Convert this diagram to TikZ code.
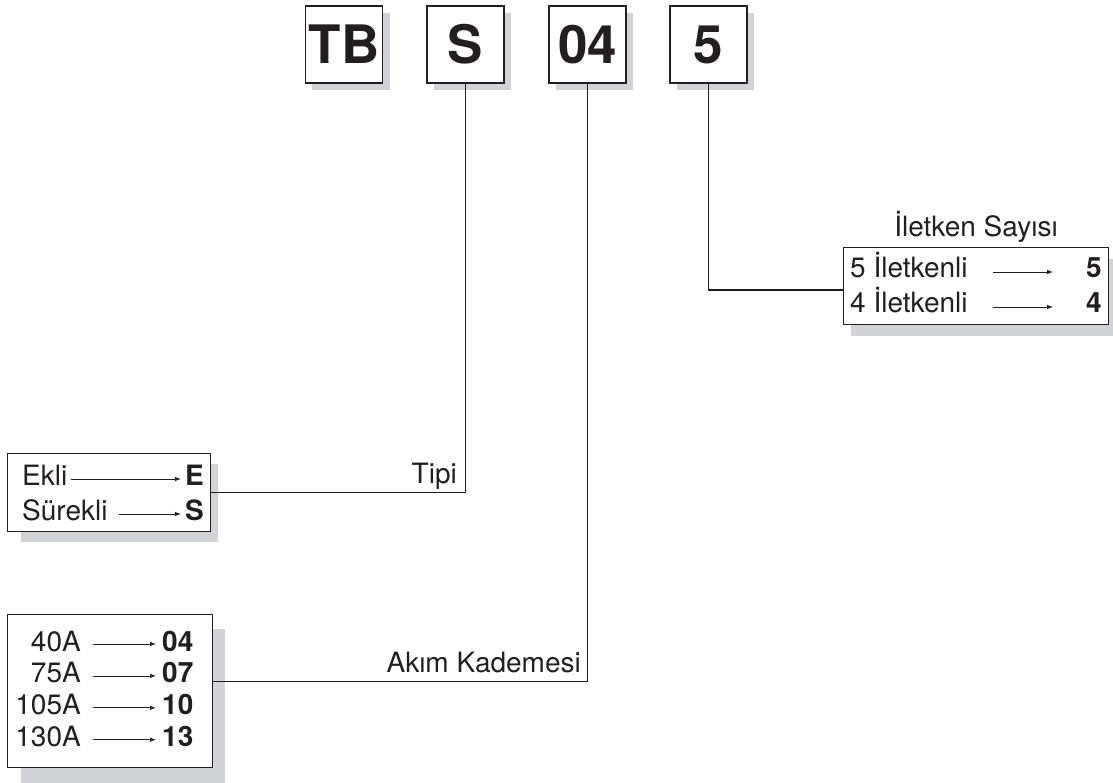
\documentclass[tikz,border=0pt]{standalone}
\usepackage{fontspec}
\setmainfont{TeX Gyre Heros}
\usetikzlibrary{arrows.meta}
\definecolor{ink}{HTML}{231F20}
\definecolor{shadowgray}{HTML}{D1D3D6}
\tikzset{
  codebox/.style={draw=ink, fill=white, line width=1.1pt, minimum width=77pt, minimum height=77pt, inner sep=0pt, text=ink, font=\fontsize{53}{60}\selectfont\bfseries},
  listbox/.style={draw=ink, fill=white, line width=1.1pt, inner sep=0pt, anchor=north west},
  txt/.style={inner sep=0pt, text=ink, font=\fontsize{28}{34}\selectfont},
  val/.style={txt, font=\fontsize{28}{34}\selectfont\bfseries},
  maparr/.style={ink, line width=0.8pt, -{Latex[length=6pt,width=4.5pt]}},
  wire/.style={ink, line width=1.1pt},
  boxshadow/.style={fill=shadowgray},
}

\begin{document}
\begin{tikzpicture}[x=1pt,y=-1pt]
\useasboundingbox (0,0) rectangle (1113,783);

% shadows
\fill[boxshadow] (312,13) rectangle (390,90);
\fill[boxshadow] (434,13) rectangle (511,90);
\fill[boxshadow] (556,13) rectangle (633,90);
\fill[boxshadow] (677,13) rectangle (754,90);
\fill[boxshadow] (21,464) rectangle (218,542);
\fill[boxshadow] (21,629) rectangle (225,783);
\fill[boxshadow] (851,259) rectangle (1113,336);

% code
\node[codebox] (tb) at (344,44.5) {TB};
\node[codebox] (tip) at (465.5,44.5) {S};
\node[codebox] (akim) at (587.5,44.5) {04};
\node[codebox] (iletken) at (708.5,44.5) {5};

% Tipi
\node[listbox, minimum width=203pt, minimum height=78pt] (tipbox) at (7,453) {};
\node[txt, anchor=base west] (ekli) at (22,485) {Ekli};
\node[val, anchor=base east] (ekliV) at (204,485) {E};
\node[txt, anchor=base west] (surekli) at (22,520) {Sürekli};
\node[val, anchor=base east] (surekliV) at (204,520) {S};
\draw[maparr] ([xshift=3pt,yshift=6pt]ekli.base east) -- ([xshift=-4pt,yshift=6pt]ekliV.base west);
\draw[maparr] ([xshift=11pt,yshift=6pt]surekli.base east) -- ([xshift=-4pt,yshift=6pt]surekliV.base west);
\draw[wire] (tipbox.east) -| (tip.south);
\node[txt, anchor=base east] (tiplbl) at (457,483) {Tipi};

% Akim Kademesi
\node[listbox, minimum width=205pt, minimum height=153pt] (akimbox) at (7,614) {};
\foreach \a/\c [count=\i] in {40A/04,75A/07,105A/10,130A/13} {
  \node[txt, anchor=base east] (akimA\i) at (81,{619.1+31.9*\i}) {\a};
  \node[val, anchor=base west] (akimV\i) at (162,{619.1+31.9*\i}) {\c};
  \draw[maparr] ([xshift=12pt,yshift=7pt]akimA\i.base east) -- ([xshift=-6pt,yshift=7pt]akimV\i.base west);
}
\draw[wire] ([yshift=10pt]akimbox.east) -| (akim.south);
\node[txt, anchor=base east] (akimlbl) at (581,672) {Akım Kademesi};

% Iletken Sayisi
\node[listbox, minimum width=265pt, minimum height=77pt] (iletbox) at (843,247) {};
\node[txt, anchor=base] (iletlbl) at (976,237) {İletken Sayısı};
\node[txt, anchor=base west] (ilet5) at (850,278) {5 İletkenli};
\node[val, anchor=base east] (ilet5V) at (1102,278) {5};
\node[txt, anchor=base west] (ilet4) at (850,313) {4 İletkenli};
\node[val, anchor=base east] (ilet4V) at (1102,313) {4};
\draw[maparr] ([xshift=25pt,yshift=6pt]ilet5.base east) -- ([xshift=-33pt,yshift=6pt]ilet5V.base west);
\draw[maparr] ([xshift=25pt,yshift=6pt]ilet4.base east) -- ([xshift=-33pt,yshift=6pt]ilet4V.base west);
\draw[wire] (iletken.south) |- ([yshift=-4pt]iletbox.west);
\end{tikzpicture}
\end{document}
